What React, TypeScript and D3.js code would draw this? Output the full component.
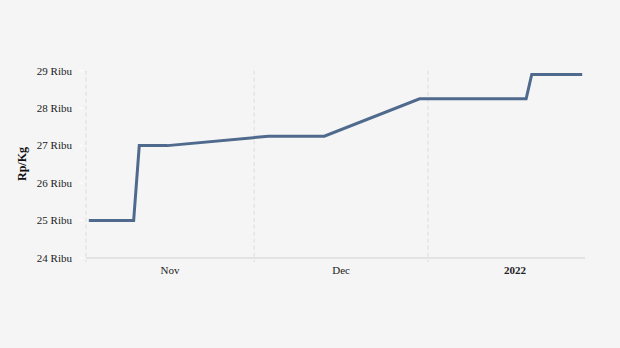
import React from "react";
import * as d3 from "d3";

const dates = [
  "2021-11-01", "2021-11-09", "2021-11-10", "2021-11-15", "2021-12-03",
  "2021-12-13", "2021-12-30", "2022-01-18", "2022-01-19", "2022-01-28",
];
const prices = [25000, 25000, 27000, 27000, 27250, 27250, 28250, 28250, 28900, 28900];
const yTicks = [24000, 25000, 26000, 27000, 28000, 29000];
const monthLabels = ["Nov", "Dec", "2022"];
const yTitle = "Rp/Kg";

const W = 620, H = 348;
const M = { left: 86, right: 585, top: 70.7, bottom: 258 };
const FONT = "'Liberation Serif', 'DejaVu Serif', serif";

export default function App() {
  const parse = d3.utcParse("%Y-%m-%d");
  const pts = dates.map((d, i) => ({ t: d3.utcHour.offset(parse(d) as Date, 12), v: prices[i] }));
  const x = d3.scaleUtc()
    .domain([parse("2021-11-01") as Date, parse("2022-01-29") as Date])
    .range([M.left, M.right]);
  const y = d3.scaleLinear().domain([24000, 29000]).range([M.bottom, M.top]);
  const line = d3.line<{ t: Date; v: number }>().x(d => x(d.t)).y(d => y(d.v));
  const months = d3.utcMonth.range(parse("2021-11-01") as Date, parse("2022-01-29") as Date);
  return (
    <div style={{ position: "fixed", left: 0, top: 0, width: W, height: H }}>
      <svg width={W} height={H} style={{ display: "block", background: "#f5f5f5" }}>
        <rect width={W} height={H} fill="#f5f5f5" />
        {months.map((m, i) => (
          <line key={"g" + i} x1={x(m)} x2={x(m)} y1={M.top} y2={M.bottom + 4}
            stroke="#dcdcdc" strokeWidth={1} strokeDasharray="4,3" />
        ))}
        <line x1={M.left} x2={M.right} y1={M.bottom} y2={M.bottom} stroke="#e3e3e3" strokeWidth={2} />
        {yTicks.map(t => (
          <g key={t}>
            <line x1={M.left - 7} x2={M.left - 3} y1={y(t)} y2={y(t)} stroke="#ffffff" strokeWidth={1} />
            <text x={72} y={y(t)} dy="0.35em" textAnchor="end" fontFamily={FONT} fontSize={11} fill="#222">
              {`${t / 1000} Ribu`}
            </text>
          </g>
        ))}
        {months.map((m, i) => {
          const end = d3.utcMonth.offset(m, 1);
          const mid = new Date((m.getTime() + end.getTime()) / 2);
          return (
            <text key={"l" + i} x={x(mid)} y={274} textAnchor="middle" fontFamily={FONT}
              fontSize={11} fontWeight={monthLabels[i] === "2022" ? "bold" : "normal"} fill="#222">
              {monthLabels[i]}
            </text>
          );
        })}
        <text transform={`translate(26,164) rotate(-90)`} textAnchor="middle" fontFamily={FONT}
          fontSize={12} fontWeight="bold" fill="#111">{yTitle}</text>
        <path d={line(pts) || ""} fill="none" stroke="#4f6a8d" strokeWidth={3} strokeLinejoin="miter" />
      </svg>
    </div>
  );
}
